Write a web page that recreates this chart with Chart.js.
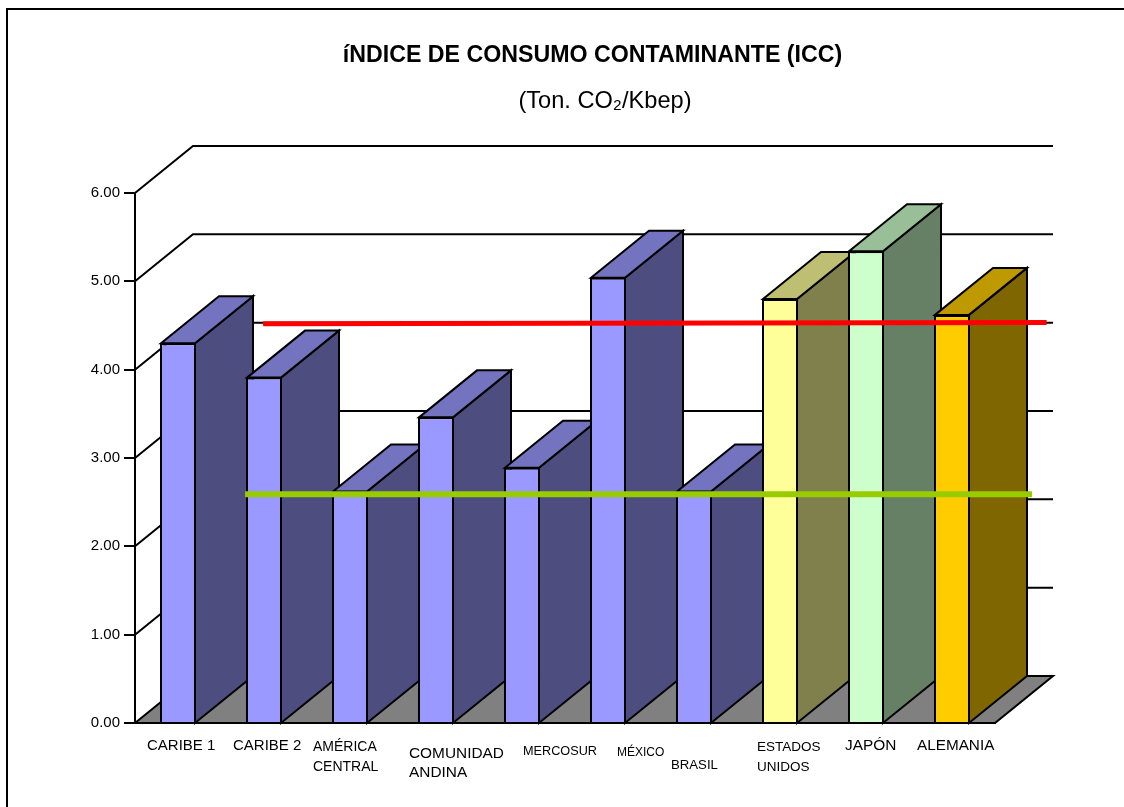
<!DOCTYPE html>
<html>
<head>
<meta charset="utf-8">
<title>ICC</title>
<script src="https://cdn.jsdelivr.net/npm/chart.js@4/dist/chart.umd.min.js"></script>
<style>
  html, body { margin: 0; padding: 0; width: 1124px; height: 807px; overflow: hidden; background: #fff; }
  #frame { position: absolute; left: 6px; top: 8px; width: 1140px; height: 820px; border: 2px solid #000; }
  #wrap { position: absolute; left: 0; top: 0; width: 1124px; height: 807px; }
</style>
</head>
<body>
<div id="frame"></div>
<div id="wrap"><canvas id="myChart" width="1124" height="807"></canvas></div>
<script>
// Datos
const categories = ['CARIBE 1', 'CARIBE 2', 'AMÉRICA CENTRAL', 'COMUNIDAD ANDINA', 'MERCOSUR', 'MÉXICO', 'BRASIL', 'ESTADOS UNIDOS', 'JAPÓN', 'ALEMANIA'];
const values = [4.30, 3.91, 2.62, 3.46, 2.89, 5.04, 2.62, 4.80, 5.34, 4.62];
const frontColors = ['#9999ff', '#9999ff', '#9999ff', '#9999ff', '#9999ff', '#9999ff', '#9999ff', '#ffff99', '#ccffcc', '#ffcc00'];
const redLineX = [1.49, 10.6];
const redLineY = [4.52, 4.535];
const greenLineX = [1.28, 10.43];
const greenLineY = [2.59, 2.59];
const yTicks = [0, 1, 2, 3, 4, 5, 6];
const titleText = 'íNDICE DE CONSUMO CONTAMINANTE (ICC)';
const subtitleText = '(Ton. CO₂/Kbep)';

// Etiquetas del eje X colocadas a mano como en el original
const labelLayout = [
  { x: 147, y: [746], size: 15, lines: ['CARIBE 1'] },
  { x: 233, y: [746], size: 15, lines: ['CARIBE 2'] },
  { x: 313, y: [747, 767], size: 14, lines: ['AMÉRICA', 'CENTRAL'] },
  { x: 409, y: [754, 773], size: 15.4, lines: ['COMUNIDAD', 'ANDINA'] },
  { x: 523, y: [751], size: 12.7, lines: ['MERCOSUR'] },
  { x: 617, y: [753], size: 12, lines: ['MÉXICO'] },
  { x: 671, y: [765], size: 13.2, lines: ['BRASIL'] },
  { x: 757, y: [747, 767], size: 13.5, lines: ['ESTADOS', 'UNIDOS'] },
  { x: 845, y: [746], size: 15.4, lines: ['JAPÓN'] },
  { x: 917, y: [746], size: 15.3, lines: ['ALEMANIA'] }
];

const DX = 58;
const DY = 47;
const FONT = '"Liberation Sans", Arial, sans-serif';

function shade(hex, k) {
  const n = parseInt(hex.slice(1), 16);
  const r = Math.round(((n >> 16) & 255) * k);
  const g = Math.round(((n >> 8) & 255) * k);
  const b = Math.round((n & 255) * k);
  return 'rgb(' + r + ',' + g + ',' + b + ')';
}

function poly(ctx, pts, fill) {
  ctx.beginPath();
  pts.forEach((p, i) => i ? ctx.lineTo(p[0], p[1]) : ctx.moveTo(p[0], p[1]));
  ctx.closePath();
  ctx.fillStyle = fill;
  ctx.fill();
  ctx.stroke();
}

// Paredes, suelo y caras laterales de las barras
const depthPlugin = {
  id: 'depth',
  beforeDatasetsDraw(chart) {
    const ctx = chart.ctx;
    const { left, right } = chart.chartArea;
    const yScale = chart.scales.y;
    const base = yScale.getPixelForValue(0);
    ctx.save();
    ctx.strokeStyle = '#000';
    ctx.lineWidth = 2;
    ctx.lineJoin = 'miter';

    yTicks.forEach(t => {
      if (t === 0) return;
      const py = yScale.getPixelForValue(t);
      ctx.beginPath();
      ctx.moveTo(left, py);
      ctx.lineTo(left + DX, py - DY);
      ctx.lineTo(right + DX, py - DY);
      ctx.stroke();
    });
    poly(ctx, [[left, base], [left + DX, base - DY], [right + DX, base - DY], [right, base]], '#808080');

    const meta = chart.getDatasetMeta(0);
    meta.data.forEach((bar, i) => {
      const half = bar.width / 2 - 1;
      const xl = bar.x - half;
      const xr = bar.x + half;
      const c = frontColors[i];
      poly(ctx, [[xr, bar.y], [xr + DX, bar.y - DY], [xr + DX, base - DY], [xr, base]], shade(c, 0.5));
      poly(ctx, [[xl, bar.y], [xl + DX, bar.y - DY], [xr + DX, bar.y - DY], [xr, bar.y]], shade(c, 0.75));
    });
    ctx.restore();
  },
  afterDraw(chart) {
    const ctx = chart.ctx;
    ctx.save();
    ctx.fillStyle = '#000';
    ctx.textBaseline = 'middle';

    ctx.textAlign = 'center';
    ctx.font = 'bold 23.2px ' + FONT;
    ctx.fillText(titleText, 592.5, 55.5);
    ctx.font = '23.6px ' + FONT;
    ctx.fillText(subtitleText, 605, 101.5);

    ctx.textAlign = 'left';
    labelLayout.forEach(l => {
      ctx.font = l.size + 'px ' + FONT;
      l.lines.forEach((txt, j) => ctx.fillText(txt, l.x, l.y[j]));
    });
    ctx.restore();
  }
};

const ctx = document.getElementById('myChart').getContext('2d');
const myChart = new Chart(ctx, {
  type: 'bar',
  data: {
    labels: categories,
    datasets: [
      {
        data: values,
        backgroundColor: frontColors,
        borderColor: '#000',
        borderWidth: 2,
        grouped: false,
        categoryPercentage: 1,
        barPercentage: 0.4186,
        order: 2
      },
      {
        type: 'line',
        xAxisID: 'x2',
        data: redLineX.map((x, i) => ({ x: x, y: redLineY[i] })),
        borderColor: '#ff0000',
        borderWidth: 5,
        pointRadius: 0,
        clip: false,
        order: 1
      },
      {
        type: 'line',
        xAxisID: 'x2',
        data: greenLineX.map((x, i) => ({ x: x, y: greenLineY[i] })),
        borderColor: '#99cc00',
        borderWidth: 6,
        pointRadius: 0,
        clip: false,
        order: 0
      }
    ]
  },
  options: {
    responsive: false,
    animation: false,
    layout: { padding: { left: 61, right: 129, top: 193, bottom: 84 } },
    plugins: {
      legend: { display: false },
      tooltip: { enabled: false }
    },
    scales: {
      x: {
        grid: { display: false },
        ticks: { display: false },
        border: { display: true, color: '#000', width: 2 },
        afterFit: s => { s.height = 0; }
      },
      x2: {
        type: 'linear',
        display: false,
        offset: false,
        min: 0,
        max: 10
      },
      y: {
        min: 0,
        max: 6,
        afterBuildTicks: s => { s.ticks = yTicks.map(v => ({ value: v })); },
        grid: { drawOnChartArea: false, drawTicks: true, color: '#000', lineWidth: 2, tickLength: 11 },
        border: { display: true, color: '#000', width: 2 },
        ticks: {
          color: '#000',
          padding: 4,
          font: { family: FONT, size: 15 },
          callback: v => v.toFixed(2)
        },
        afterFit: s => { s.width = 74; }
      }
    }
  },
  plugins: [depthPlugin]
});
</script>
</body>
</html>
